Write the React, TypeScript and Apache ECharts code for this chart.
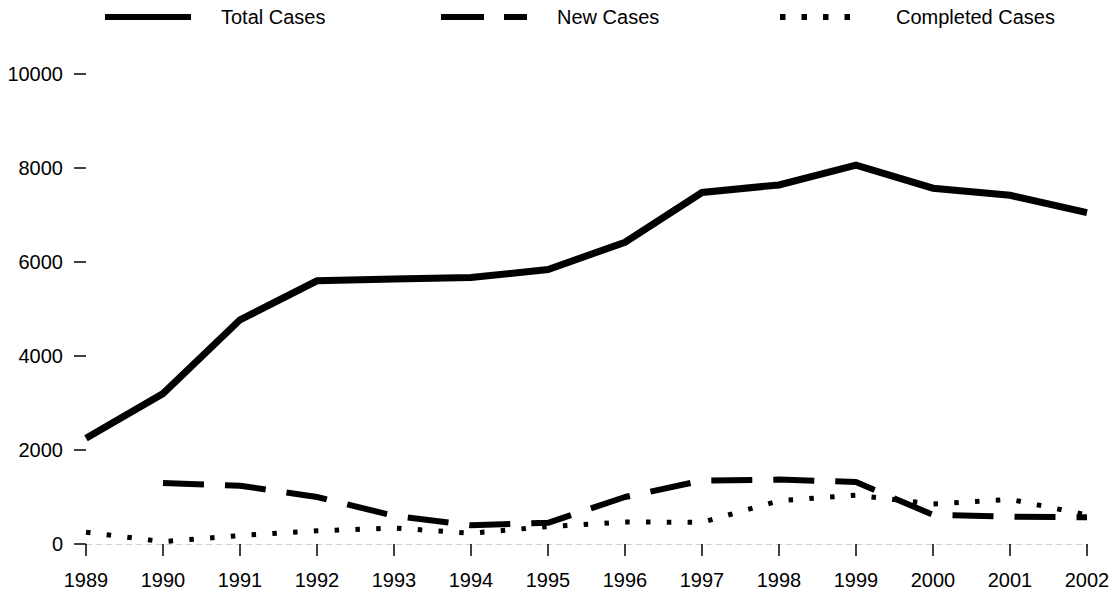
import React, { useEffect, useRef } from "react";
import * as echarts from "echarts";

const years = ["1989", "1990", "1991", "1992", "1993", "1994", "1995", "1996", "1997", "1998", "1999", "2000", "2001", "2002"];
const totalCases = [2250, 3200, 4770, 5600, 5640, 5670, 5840, 6420, 7480, 7640, 8060, 7570, 7420, 7050];
const newCases = [null, 1300, 1240, 1000, 600, 400, 450, 1000, 1350, 1370, 1320, 620, 580, 570];
const completedCases = [250, 50, 180, 280, 340, 230, 370, 470, 460, 920, 1040, 850, 950, 620];
const yTicks = { min: 0, max: 10000, interval: 2000 };

const FONT = "'Liberation Sans', Arial, Helvetica, sans-serif";
const INK = "#000";

export default function App() {
  const ref = useRef<HTMLDivElement>(null);

  useEffect(() => {
    if (!ref.current) return;
    const chart = echarts.init(ref.current, null, { renderer: "svg" });
    const legendY = 17;
    const legendItem = (x: number, label: string, dash: number[] | null, width: number, textX: number) => [
      {
        type: "line",
        shape: { x1: x, y1: legendY, x2: x + 86, y2: legendY },
        style: { stroke: INK, lineWidth: width, lineDash: dash || undefined, lineCap: "butt" },
      },
      {
        type: "text",
        x: textX,
        y: legendY,
        style: { text: label, fill: INK, font: `20px ${FONT}`, textVerticalAlign: "middle", verticalAlign: "middle" },
      },
    ];
    chart.setOption({
      animation: false,
      backgroundColor: "#fff",
      grid: { left: 86, right: 30, top: 74, bottom: 50, containLabel: false },
      xAxis: {
        type: "category",
        data: years,
        boundaryGap: false,
        axisLine: { show: true, lineStyle: { color: "#d0d0d0", width: 1, type: [6, 4] } },
        axisTick: { show: true, length: 12, lineStyle: { color: INK, width: 1.5 } },
        axisLabel: { color: INK, fontSize: 20, fontFamily: FONT, margin: 26 },
        splitLine: { show: false },
      },
      yAxis: {
        type: "value",
        min: yTicks.min,
        max: yTicks.max,
        interval: yTicks.interval,
        axisLine: { show: false },
        axisTick: { show: true, length: 12, lineStyle: { color: INK, width: 1.5 } },
        axisLabel: { color: INK, fontSize: 20, fontFamily: FONT, margin: 23, formatter: (v: number) => String(v) },
        splitLine: { show: false },
      },
      series: [
        {
          name: "Total Cases",
          type: "line",
          data: totalCases,
          symbol: "none",
          lineStyle: { color: INK, width: 7, type: "solid", cap: "butt", join: "miter" },
          z: 3,
        },
        {
          name: "New Cases",
          type: "line",
          data: newCases,
          symbol: "none",
          connectNulls: false,
          lineStyle: { color: INK, width: 6, type: [41, 21], cap: "butt" },
          z: 2,
        },
        {
          name: "Completed Cases",
          type: "line",
          data: completedCases,
          symbol: "none",
          lineStyle: { color: INK, width: 5, type: [4.5, 16.3], cap: "butt" },
          z: 2,
        },
      ],
      graphic: [
        ...legendItem(105, "Total Cases", null, 6, 221),
        ...legendItem(441, "New Cases", [43, 20, 25, 0], 6, 557),
        ...legendItem(780, "Completed Cases", [5.5, 16], 6, 896),
      ],
    });
    return () => chart.dispose();
  }, []);

  return (
    <div
      ref={ref}
      style={{ position: "fixed", left: 0, top: 0, width: 1117, height: 594, background: "#fff" }}
    />
  );
}
